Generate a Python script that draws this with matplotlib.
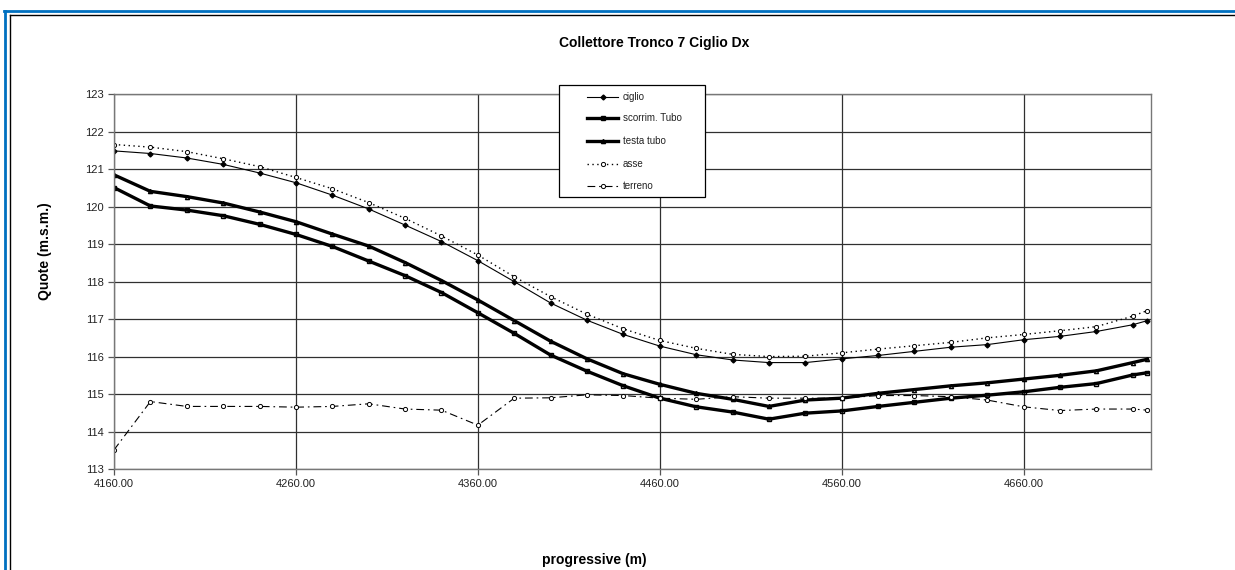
import matplotlib
matplotlib.use("Agg")
import matplotlib.pyplot as plt
from matplotlib.lines import Line2D
from matplotlib.patches import Rectangle
from matplotlib.ticker import FormatStrFormatter

plt.rcParams["font.family"] = ["Liberation Sans", "DejaVu Sans"]

# progressive (m)
progressive = [4160, 4180, 4200, 4220, 4240, 4260, 4280, 4300, 4320, 4340,
               4360, 4380, 4400, 4420, 4440, 4460, 4480, 4500, 4520, 4540,
               4560, 4580, 4600, 4620, 4640, 4660, 4680, 4700, 4720, 4728]

ciglio = [121.49, 121.42, 121.30, 121.13, 120.90, 120.64, 120.31, 119.94, 119.51, 119.07,
          118.56, 118.00, 117.43, 116.97, 116.59, 116.28, 116.05, 115.91, 115.84, 115.84,
          115.94, 116.03, 116.14, 116.25, 116.32, 116.45, 116.54, 116.67, 116.85, 116.96]

scorrim_tubo = [120.51, 120.02, 119.91, 119.76, 119.53, 119.26, 118.94, 118.55, 118.16, 117.71,
                117.17, 116.62, 116.04, 115.61, 115.22, 114.89, 114.66, 114.52, 114.33, 114.49,
                114.55, 114.67, 114.78, 114.89, 114.97, 115.06, 115.18, 115.28, 115.51, 115.57]

testa_tubo = [120.85, 120.41, 120.27, 120.10, 119.86, 119.60, 119.27, 118.95, 118.51, 118.03,
              117.51, 116.96, 116.41, 115.94, 115.54, 115.26, 115.02, 114.86, 114.67, 114.84,
              114.89, 115.02, 115.12, 115.22, 115.30, 115.40, 115.50, 115.62, 115.84, 115.93]

asse = [121.66, 121.59, 121.47, 121.28, 121.07, 120.78, 120.48, 120.11, 119.69, 119.22,
        118.71, 118.13, 117.60, 117.13, 116.74, 116.43, 116.22, 116.06, 116.00, 116.01,
        116.10, 116.20, 116.29, 116.38, 116.50, 116.59, 116.69, 116.80, 117.08, 117.23]

terreno = [113.51, 114.80, 114.67, 114.67, 114.67, 114.65, 114.67, 114.74, 114.60, 114.57,
           114.17, 114.89, 114.90, 114.98, 114.96, 114.89, 114.86, 114.93, 114.89, 114.89,
           114.89, 114.96, 114.96, 114.93, 114.84, 114.66, 114.56, 114.60, 114.60, 114.57]

x_ticks = [4160, 4260, 4360, 4460, 4560, 4660]
y_ticks = list(range(113, 124))

W, H = 1235, 570
fig = plt.figure(figsize=(W / 100, H / 100), dpi=100)


def fx(px):
    return px / W


def fy(py):
    return 1 - py / H


# frame lines around the chart (cropped at right and bottom)
fig.add_artist(Line2D([fx(4), 1], [fy(11), fy(11)], color="#0070c0", lw=2))
fig.add_artist(Line2D([fx(5), fx(5)], [0, fy(11)], color="#0070c0", lw=2))
fig.add_artist(Line2D([fx(9.5), 1], [fy(15), fy(15)], color="black", lw=1))
fig.add_artist(Line2D([fx(9.5), fx(9.5)], [0, fy(15)], color="black", lw=1))

left, right, top, bottom = 114, 1151, 94.3, 469
ax = fig.add_axes([fx(left), fy(bottom), (right - left) / W, (bottom - top) / H])

styles = [
    ("ciglio", ciglio, dict(lw=0.8, marker="D", ms=2.5)),
    ("scorrim. Tubo", scorrim_tubo, dict(lw=2.4, marker="s", ms=2.5, mfc="none")),
    ("testa tubo", testa_tubo, dict(lw=2.4, marker="^", ms=3, mfc="none")),
    ("asse", asse, dict(lw=1.0, linestyle=(0, (1, 2.5)), marker="o", ms=3,
                        mfc="white", mew=0.7)),
    ("terreno", terreno, dict(lw=0.8, linestyle=(0, (7, 3.5, 1.5, 3.5)), marker="o",
                              ms=3, mfc="white", mew=0.7)),
]

for label, values, kw in styles:
    ax.plot(progressive, values, color="black", label=label, **kw)

ax.set_xlim(4160, 4730)
ax.set_ylim(113, 123)
ax.set_xticks(x_ticks)
ax.set_yticks(y_ticks)
ax.xaxis.set_major_formatter(FormatStrFormatter("%.2f"))
ax.grid(True, color="#303030", lw=0.9)
ax.set_axisbelow(True)
ax.tick_params(axis="both", labelsize=8, length=4, width=0.9, color="#555555",
               labelcolor="#222222")
for s in ax.spines.values():
    s.set_color("#777777")
    s.set_linewidth(1.0)

# legend box drawn like the spreadsheet one
fig.add_artist(Rectangle((fx(559.3), fy(197.3)), fx(704.7) - fx(559.3),
                         fy(84.7) - fy(197.3), facecolor="white", edgecolor="black",
                         lw=0.9, zorder=5))
entry_y = [97, 118, 141, 164, 186]
for (label, _, kw), ey in zip(styles, entry_y):
    line_kw = {k: v for k, v in kw.items() if k not in ("marker", "ms", "mfc", "mew")}
    fig.add_artist(Line2D([fx(587), fx(618)], [fy(ey), fy(ey)], color="black",
                          zorder=6, **line_kw))
    fig.add_artist(Line2D([fx(602.5)], [fy(ey)], color="black", linestyle="none",
                          marker=kw["marker"], ms=kw["ms"], mfc=kw.get("mfc", "black"),
                          mew=kw.get("mew", 1.0), zorder=7))
    fig.text(fx(622.7), fy(ey), label, ha="left", va="center", fontsize=7,
             color="#222222", zorder=7)

fig.text(fx(654.5), fy(42.5), "Collettore Tronco 7 Ciglio Dx", ha="center",
         va="center", fontsize=10, fontweight="bold")
fig.text(fx(45), fy(251), "Quote (m.s.m.)", ha="center", va="center",
         rotation=90, fontsize=10, fontweight="bold")
fig.text(fx(594.7), fy(560), "progressive (m)", ha="center", va="center",
         fontsize=10, fontweight="bold")

fig.savefig("out.png", dpi=100)
